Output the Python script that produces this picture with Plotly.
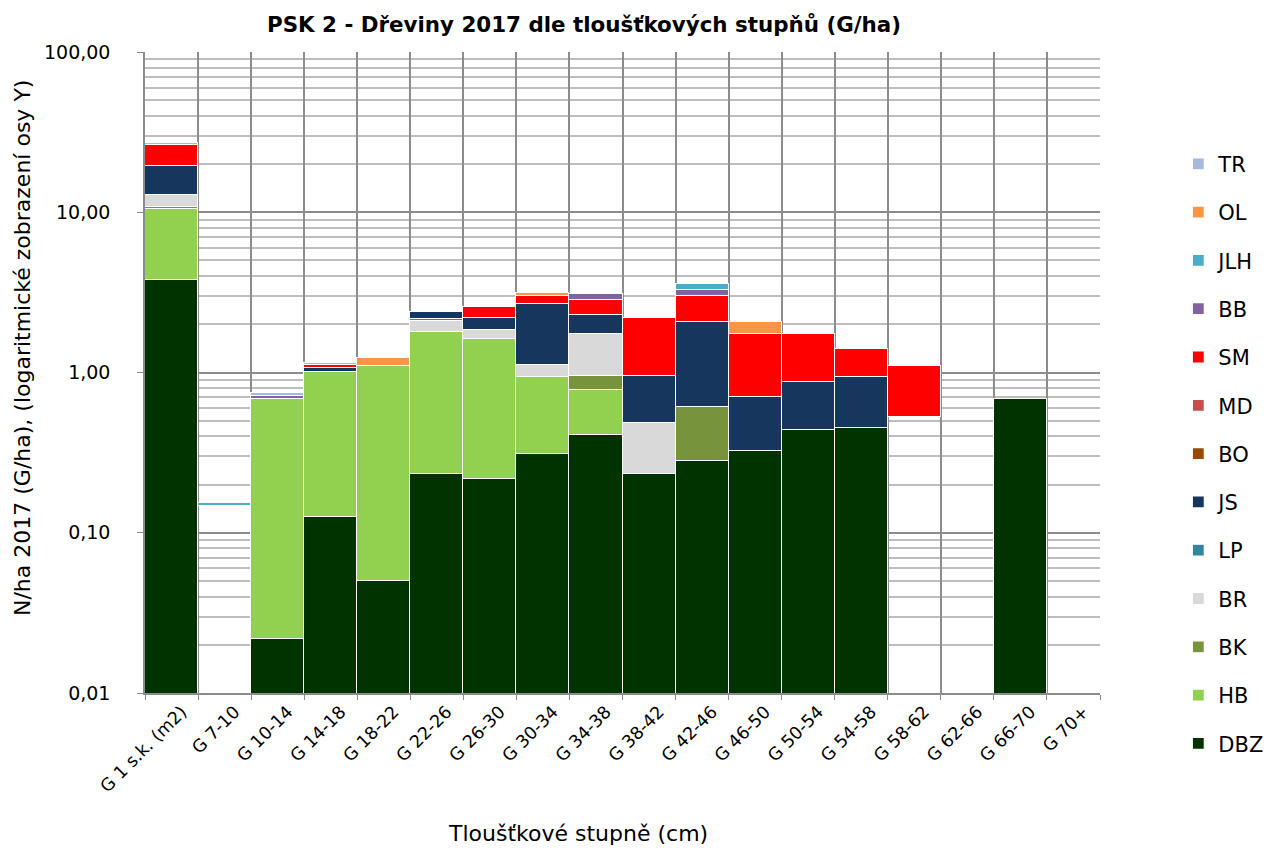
import plotly.graph_objects as go

# Diameter classes (basal area per hectare, log scale)
categories = ["G 1 s.k. (m2)", "G 7-10", "G 10-14", "G 14-18", "G 18-22", "G 22-26",
              "G 26-30", "G 30-34", "G 34-38", "G 38-42", "G 42-46", "G 46-50",
              "G 50-54", "G 54-58", "G 58-62", "G 62-66", "G 66-70", "G 70+"]

# Segment values per species (stacked from bottom: DBZ first)
unlisted = [0, 0.146, 0, 0, 0, 0, 0, 0, 0, 0, 0, 0, 0, 0, 0.524, 0, 0, 0]
DBZ = [3.80, 0, 0.0216, 0.126, 0.050, 0.231, 0.215, 0.312, 0.405, 0.231, 0.282, 0.326, 0.435, 0.448, 0, 0, 0.68, 0]
HB  = [6.75, 0, 0.658, 0.884, 1.055, 1.569, 1.395, 0.628, 0.375, 0, 0, 0, 0, 0, 0, 0, 0, 0]
BK  = [0.30, 0, 0, 0, 0, 0, 0, 0, 0.177, 0, 0.323, 0, 0, 0, 0, 0, 0, 0]
BR  = [2.05, 0, 0, 0, 0, 0.31, 0.24, 0.18, 0.793, 0.256, 0, 0, 0, 0, 0, 0, 0, 0]
LP  = [0, 0, 0, 0, 0, 0.06, 0, 0, 0, 0, 0, 0, 0, 0, 0, 0, 0, 0]
JS  = [6.40, 0, 0, 0.06, 0, 0.23, 0.35, 1.57, 0.52, 0.47, 1.455, 0.382, 0.432, 0.496, 0, 0, 0, 0]
BO  = [0] * 18
MD  = [0] * 18
SM  = [6.80, 0, 0, 0.05, 0, 0, 0.38, 0.33, 0.58, 1.243, 0.94, 1.042, 0.863, 0.466, 0.581, 0, 0, 0]
BB  = [0, 0, 0.03, 0, 0, 0, 0, 0, 0.22, 0, 0.27, 0, 0, 0, 0, 0, 0, 0]
JLH = [0, 0.008, 0, 0, 0, 0, 0, 0, 0, 0, 0.30, 0, 0, 0, 0, 0, 0, 0]
OL  = [0, 0, 0, 0, 0.135, 0, 0, 0.13, 0, 0, 0, 0.33, 0, 0, 0, 0, 0, 0]
TR  = [0.80, 0, 0.03, 0.03, 0, 0, 0, 0, 0, 0, 0, 0, 0, 0, 0, 0, 0, 0]

series = [
    ("DBZ", DBZ, "#003300"),
    ("HB", HB, "#92D050"),
    ("BK", BK, "#77933C"),
    ("BR", BR, "#D9D9D9"),
    ("LP", LP, "#31859C"),
    ("JS", JS, "#17365D"),
    ("BO", BO, "#984807"),
    ("MD", MD, "#C0504D"),
    ("SM", SM, "#FF0000"),
    ("BB", BB, "#8064A2"),
    ("JLH", JLH, "#4BACC6"),
    ("OL", OL, "#F79646"),
    ("TR", TR, "#A9B8DA"),
]

y_ticks = [0.01, 0.1, 1, 10, 100]
y_ticktext = ["0,01", "0,10", "1,00", "10,00", "100,00"]

FONT = "'DejaVu Sans', sans-serif"

fig = go.Figure()

# transparent layer lifting segments that start above the axis floor
fig.add_trace(go.Bar(
    x=categories, y=unlisted, name="", showlegend=False,
    marker=dict(color="rgba(0,0,0,0)", line=dict(width=0)),
    hoverinfo="skip",
))

n = len(series)
for i, (name, vals, color) in enumerate(series):
    fig.add_trace(go.Bar(
        x=categories, y=vals, name=name, legendgroup=name,
        legendrank=100 + (n - i),
        marker=dict(color=color, line=dict(color="white", width=1.2)),
    ))

minor_vals = [m * 10 ** e for e in range(-2, 2) for m in range(2, 10)]

fig.update_layout(
    barmode="stack",
    bargap=0,
    width=1284, height=850,
    margin=dict(l=145, r=184, t=52, b=157),
    paper_bgcolor="white", plot_bgcolor="white",
    font=dict(family=FONT, size=17, color="#000000"),
    title=dict(
        text="<b>PSK 2 - Dřeviny 2017 dle tloušťkových stupňů (G/ha)</b>",
        x=584 / 1284, xanchor="center", xref="container",
        y=1 - 25 / 850, yanchor="middle", yref="container",
        font=dict(family=FONT, size=21.4, color="#000000"),
    ),
    legend=dict(
        x=1.082, y=0.857, xanchor="left", yanchor="top",
        traceorder="grouped", tracegroupgap=18,
        font=dict(family=FONT, size=21, color="#000000"),
        itemwidth=30, bgcolor="rgba(0,0,0,0)",
        maxheight=820,
    ),
    showlegend=True,
    annotations=[
        dict(text="Tloušťkové stupně (cm)", xref="paper", yref="paper",
             x=(578 - 145) / 955, y=-(833 - 693) / 641,
             xanchor="center", yanchor="middle", showarrow=False,
             font=dict(family=FONT, size=22, color="#000000")),
        dict(text="N/ha 2017 (G/ha), (logaritmické zobrazení osy Y)",
             xref="paper", yref="paper",
             x=-(145 - 22) / 955, y=(693 - 348) / 641,
             xanchor="center", yanchor="middle", textangle=-90, showarrow=False,
             font=dict(family=FONT, size=22, color="#000000")),
    ],
)

fig.update_xaxes(
    type="category",
    tickson="boundaries",
    showgrid=True, gridcolor="#8C8C8C", gridwidth=2,
    showline=True, linecolor="#8C8C8C", linewidth=1.5,
    ticks="outside", ticklen=5, tickcolor="#8C8C8C",
    tickangle=-45, ticklabelshift=10,
    tickfont=dict(family=FONT, size=17.5, color="#000000"),
    range=[-0.5, len(categories) - 0.5],
)

fig.update_yaxes(
    type="log",
    range=[-2, 2],
    tickmode="array", tickvals=y_ticks, ticktext=y_ticktext,
    showgrid=True, gridcolor="#8C8C8C", gridwidth=2,
    minor=dict(tickmode="array", tickvals=minor_vals, showgrid=True,
               gridcolor="#BDBDBD", gridwidth=2, ticks=""),
    showline=True, linecolor="#8C8C8C", linewidth=1.5,
    ticks="outside", ticklen=6, tickcolor="#8C8C8C",
    ticklabelstandoff=23,
    tickfont=dict(family=FONT, size=19, color="#000000"),
    zeroline=False,
)

fig.write_html("out.html")
